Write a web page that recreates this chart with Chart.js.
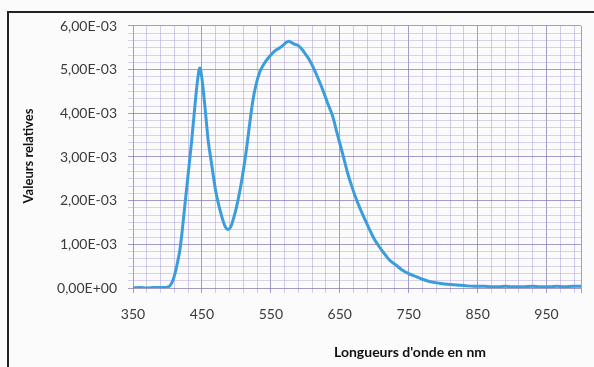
<!DOCTYPE html>
<html>
<head>
<meta charset="utf-8">
<script src="https://cdn.jsdelivr.net/npm/chart.js@4.4.1/dist/chart.umd.min.js"></script>
<style>
  html, body { margin: 0; padding: 0; background: #fbfbfb; }
  #wrap { position: relative; width: 594px; height: 367px; overflow: hidden; }
  #frame { position: absolute; left: 7px; top: 11px; width: 600px; height: 400px;
           border-left: 2px solid #222; border-top: 2px solid #222; }
  canvas { position: absolute; left: 0; top: 0; }
</style>
</head>
<body>
<div id="wrap">
  <div id="frame"></div>
  <canvas id="c" width="594" height="367"></canvas>
</div>
<script>
// Wavelengths (nm)
const wavelengths = [350,360,370,380,390,395,400,404,408,412,415,418,421,425,430,435,440,444,447,450,455,459,463,466,470,476,481,484,487,490,493,496,500,505,510,515,520,524,528,534,540,548,555,563,568,572,576,580,585,590,596,600,605,611,618,625,632,640,646,652,657,662,667,672,680,688,695,700,707,715,722,732,740,750,761,770,780,794,810,820,833,845,860,870,881,890,900,915,930,940,955,965,975,990,1000];
// Relative values
const relValues = [0,0.00001,0,0.00001,0.00001,0.00001,0.00002,0.00006,0.00018,0.00040,0.00062,0.00087,0.00125,0.00186,0.00260,0.00335,0.00420,0.00480,0.00504,0.00480,0.00405,0.00339,0.00295,0.00263,0.00222,0.00180,0.00152,0.00140,0.00134,0.00136,0.00145,0.00160,0.00184,0.00222,0.00268,0.00322,0.00385,0.00430,0.00462,0.00495,0.00513,0.00530,0.00542,0.00550,0.00556,0.00562,0.00565,0.00562,0.00558,0.00555,0.00545,0.00536,0.00525,0.00507,0.00482,0.00455,0.00425,0.00392,0.00355,0.00320,0.00290,0.00260,0.00235,0.00212,0.00180,0.00152,0.00128,0.00112,0.00095,0.00078,0.00064,0.00052,0.00042,0.00033,0.00026,0.00020,0.00015,0.00011,0.00008,0.00007,0.00005,0.00004,0.00004,0.00003,0.00003,0.00004,0.00003,0.00003,0.00004,0.00003,0.00003,0.00004,0.00003,0.00004,0.00004];
// Tick labels
const xTickLabels = [350,450,550,650,750,850,950];
const yTickLabels = ["0,00E+00","1,00E-03","2,00E-03","3,00E-03","4,00E-03","5,00E-03","6,00E-03"];
const xTitle = "Longueurs d'onde en nm";
const yTitle = "Valeurs relatives";

const points = wavelengths.map((w, i) => ({ x: w, y: relValues[i] }));

const titlesPlugin = {
  id: 'titles',
  afterDraw(chart) {
    const ctx = chart.ctx;
    ctx.save();
    ctx.fillStyle = '#111';
    ctx.font = 'bold 14px Lato, "Open Sans", sans-serif';
    ctx.textAlign = 'center';
    ctx.textBaseline = 'middle';
    ctx.fillText(xTitle, 410, 352);
    ctx.translate(29, 156);
    ctx.rotate(-Math.PI / 2);
    ctx.font = 'bold 13px Lato, "Open Sans", sans-serif';
    ctx.fillText(yTitle, 0, 0);
    ctx.restore();
  }
};

new Chart(document.getElementById('c'), {
  type: 'line',
  data: {
    datasets: [{
      data: points,
      borderColor: '#3b9ddb',
      borderWidth: 3,
      pointRadius: 0,
      cubicInterpolationMode: 'monotone',
      fill: false
    }]
  },
  options: {
    responsive: false,
    animation: false,
    layout: { padding: { left: 0, top: 26, right: 12, bottom: 0 } },
    plugins: { legend: { display: false }, tooltip: { enabled: false } },
    scales: {
      x: {
        type: 'linear',
        min: 350, max: 1000,
        afterFit(s) { s.height = 79; },
        afterBuildTicks(s) {
          const t = [];
          for (let v = 350; v <= 1000; v += 20) t.push({ value: v });
          if (t[t.length - 1].value !== 1000) t.push({ value: 1000 });
          s.ticks = t;
        },
        ticks: {
          autoSkip: false,
          maxRotation: 0,
          padding: 13,
          color: '#3a3a3a',
          font: { family: 'Lato, "Open Sans", sans-serif', size: 14 },
          callback(v) { return xTickLabels.includes(v) ? String(v) : ''; }
        },
        grid: {
          color(ctx) {
            const v = ctx.tick ? ctx.tick.value : 0;
            return xTickLabels.includes(v) || v === 1000 ? 'rgba(125,115,175,0.7)' : 'rgba(165,155,215,0.5)';
          },
          lineWidth: 1,
          tickLength: 5
        },
        border: { display: false }
      },
      y: {
        min: 0, max: 0.006,
        afterFit(s) { s.width = 133; },
        afterBuildTicks(s) {
          const t = [];
          for (let i = 0; i <= 36; i++) t.push({ value: i * 0.001 / 6 });
          s.ticks = t;
        },
        ticks: {
          autoSkip: false,
          padding: 11,
          color: '#3a3a3a',
          font: { family: 'Lato, "Open Sans", sans-serif', size: 14 },
          callback(v, i) { return i % 6 === 0 ? yTickLabels[i / 6] : ''; }
        },
        grid: {
          color(ctx) {
            return ctx.index % 6 === 0 ? 'rgba(125,115,175,0.7)' : 'rgba(175,155,215,0.45)';
          },
          lineWidth: 1,
          tickLength: 5
        },
        border: { display: false }
      }
    }
  },
  plugins: [titlesPlugin]
});
</script>
</body>
</html>
